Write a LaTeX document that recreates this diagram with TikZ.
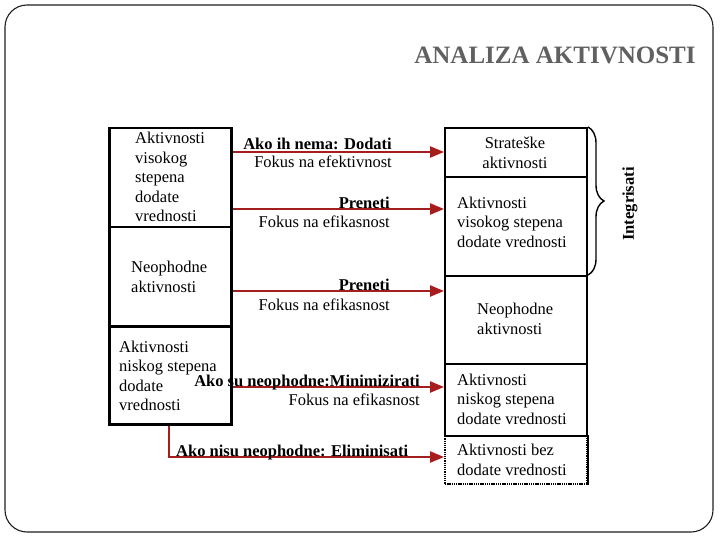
\documentclass[tikz,border=0pt]{standalone}
\usepackage{fontspec}
\setmainfont{Liberation Serif}
\usetikzlibrary{arrows.meta,decorations.pathreplacing}
\definecolor{arrred}{RGB}{165,30,30}
\definecolor{titlegrey}{RGB}{96,96,96}
\definecolor{framegrey}{RGB}{30,30,30}
\begin{document}
\begin{tikzpicture}[x=1pt,y=-1pt,
  txt/.style={font=\fontsize{16.5}{19.5}\selectfont, inner sep=0pt, align=left},
  lbl/.style={font=\fontsize{16.5}{19.5}\selectfont, inner sep=0pt},
  blbl/.style={font=\fontsize{16.5}{19.5}\selectfont\bfseries, inner sep=0pt},
  lbox/.style={draw=black, line width=2.5pt, rectangle, inner sep=0pt, anchor=north west, minimum width=122pt},
  rbox/.style={draw=black, line width=2pt, rectangle, inner sep=0pt, anchor=north west, minimum width=142pt},
  arrow/.style={draw=arrred, line width=2.4pt, -{Triangle[length=14pt,width=11pt]}},
]
\useasboundingbox (0,0) rectangle (720,540);
\draw[framegrey, line width=1.1pt, rounded corners=22pt] (5,5) rectangle (713,532);

\node[font=\fontsize{25}{30}\selectfont\bfseries, text=titlegrey, inner sep=0pt] (title) at (555,55) {ANALIZA AKTIVNOSTI};

% left column
\node[lbox, minimum height=99pt] (b1) at (108,127) {};
\node[lbox, minimum height=99pt] (b2) at (108,226) {};
\node[lbox, minimum height=98pt] (b3) at (108,325) {};
\node[txt, anchor=west] (tb1) at (135,177) {Aktivnosti\\visokog\\stepena\\dodate\\vrednosti};
\node[txt, anchor=west] (tb2) at (131,277) {Neophodne\\aktivnosti};
\node[txt, anchor=west] (tb3) at (119,376) {Aktivnosti\\niskog stepena\\dodate\\vrednosti};

% right column
\node[rbox, minimum height=49pt] (r1) at (444,127) {};
\node[rbox, minimum height=99pt] (r2) at (444,176) {};
\node[rbox, minimum height=88pt] (r3) at (444,275) {};
\node[rbox, minimum height=72pt] (r4) at (444,363) {};
\node[rbox, minimum height=48pt, dash pattern=on 1.3pt off 0.9pt] (r5) at (444,435) {};
\draw[black, line width=2pt] (r5.north east) -- (r5.south east);
\node[txt, align=center] (tr1) at (515,153) {Strateške\\aktivnosti};
\node[txt, anchor=west] (tr2) at (457,222) {Aktivnosti\\visokog stepena\\dodate vrednosti};
\node[txt, anchor=west] (tr3) at (477,319) {Neophodne\\aktivnosti};
\node[txt, anchor=west] (tr4) at (457,399) {Aktivnosti\\niskog stepena\\dodate vrednosti};
\node[txt, anchor=west] (tr5) at (457,460) {Aktivnosti bez\\dodate vrednosti};

% brace
\draw[black, line width=1.4pt, decorate, decoration={brace, amplitude=16pt}] (588,127) -- (588,275);
\node[blbl, rotate=90] (integ) at (630,204) {Integrisati};

% arrows
\draw[arrow] (b1.east |- 0,152) -- (r1.west |- 0,152);
\draw[arrow] (b1.east |- 0,209) -- (r2.west |- 0,209);
\draw[arrow] (b2.east |- 0,291) -- (r3.west |- 0,291);
\draw[arrow] (b3.east |- 0,387) -- (r4.west |- 0,387);
\draw[arrow] (b3.south -| 169,0) |- (r5.west |- 0,457);

% labels
\node[blbl, anchor=base east] (l1a) at (392,150) {Ako ih nema: Dodati};
\node[lbl, anchor=base east] (l1b) at (392,168) {Fokus na efektivnost};
\node[blbl, anchor=base east] (l2a) at (390,208) {Preneti};
\node[lbl, anchor=base east] (l2b) at (390,228) {Fokus na efikasnost};
\node[blbl, anchor=base east] (l3a) at (390,290) {Preneti};
\node[lbl, anchor=base east] (l3b) at (390,310) {Fokus na efikasnost};
\node[blbl, anchor=base east] (l4a) at (420,386) {Ako su neophodne:Minimizirati};
\node[lbl, anchor=base east] (l4b) at (420,405) {Fokus na efikasnost};
\node[blbl, anchor=base west] (l5a) at (176,456) {Ako nisu neophodne: Eliminisati};
\end{tikzpicture}
\end{document}
